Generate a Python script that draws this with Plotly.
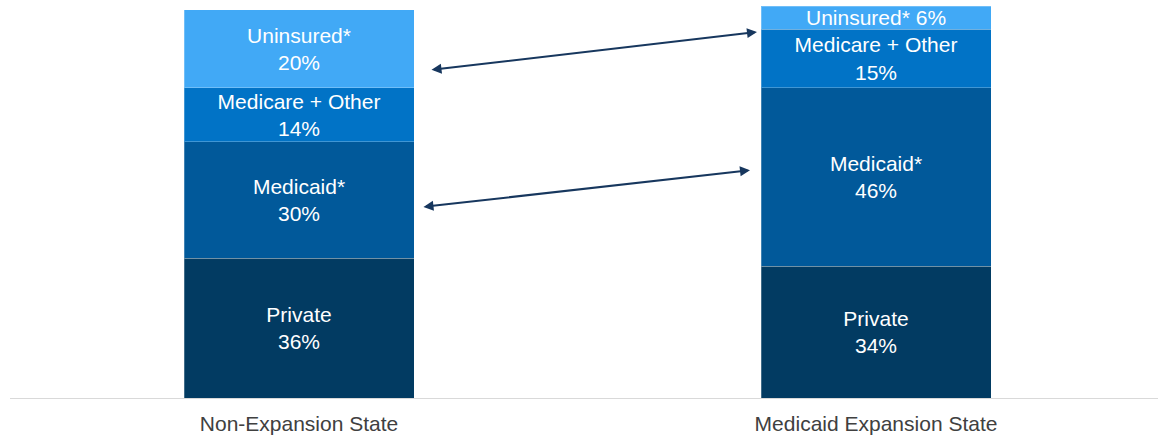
import plotly.graph_objects as go

categories = ["Non-Expansion State", "Medicaid Expansion State"]
series_names = ["Private", "Medicaid*", "Medicare + Other", "Uninsured*"]
private = [36, 34]
medicaid = [30, 46]
medicare_other = [14, 15]
uninsured = [20, 6]
label_text = {
    "Private": ["Private<br>36%", "Private<br>34%"],
    "Medicaid*": ["Medicaid*<br>30%", "Medicaid*<br>46%"],
    "Medicare + Other": ["Medicare + Other<br>14%", "Medicare + Other<br>15%"],
    "Uninsured*": ["Uninsured*<br>20%", "Uninsured* 6%"],
}
colors = {
    "Private": "#023B62",
    "Medicaid*": "#01599A",
    "Medicare + Other": "#0173C6",
    "Uninsured*": "#41A9F6",
}
values = {
    "Private": private,
    "Medicaid*": medicaid,
    "Medicare + Other": medicare_other,
    "Uninsured*": uninsured,
}

x_idx = [0, 1]
fig = go.Figure()
for name in series_names:
    fig.add_trace(go.Bar(
        x=x_idx, y=values[name], name=name,
        width=0.3986,
        marker=dict(color=colors[name], line=dict(color="rgba(255,255,255,0.25)", width=1)),
        text=label_text[name], textposition="inside", insidetextanchor="middle",
        textfont=dict(family="Liberation Sans, Arial, sans-serif", size=21, color="white"),
        hoverinfo="skip",
    ))

# arrows (data coords)
arrows = [
    ((0.2270, 84.5), (0.7937, 94.3)),
    ((0.2131, 49.2), (0.7816, 58.7)),
]
for (x0, y0), (x1, y1) in arrows:
    fig.add_annotation(x=x1, y=y1, ax=x0, ay=y0, xref="x", yref="y", axref="x", ayref="y",
                       showarrow=True, arrowhead=2, startarrowhead=2, arrowside="end+start",
                       arrowsize=1, startarrowsize=1, arrowwidth=2, arrowcolor="#17375E", text="")

fig.update_layout(
    barmode="stack", width=1158, height=438, showlegend=False,
    plot_bgcolor="white", paper_bgcolor="white",
    margin=dict(l=10, r=0, t=6, b=40),
    uniformtext=dict(minsize=21, mode="show"),
    xaxis=dict(range=[-0.5009, 1.4887], tickvals=x_idx, ticktext=categories,
               showline=True, linecolor="#D9D9D9", linewidth=1, showgrid=False, zeroline=False,
               ticks="", tickfont=dict(family="Liberation Sans, Arial, sans-serif", size=21, color="#404040"),
               ticklabelstandoff=7),
    yaxis=dict(range=[0, 101], visible=False),
)
fig.write_html("out.html")
